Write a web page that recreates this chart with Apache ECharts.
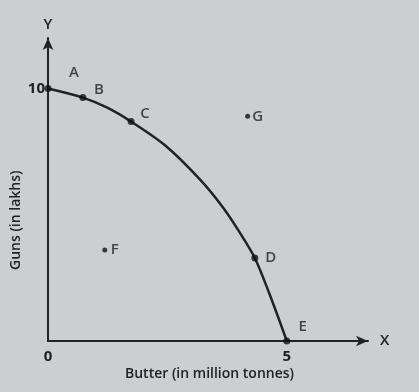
<!DOCTYPE html>
<html>
<head>
<meta charset="utf-8">
<script src="https://cdn.jsdelivr.net/npm/echarts@6/dist/echarts.min.js"></script>
<style>
  html, body { margin: 0; padding: 0; background: #cbcfd2; }
  #chart { width: 419px; height: 392px; }
</style>
</head>
<body>
<div id="chart"></div>
<script>
// PPF curve (butter, guns)
const curveX = [0, 0.73, 1.23, 1.74, 2.45, 3.18, 3.66, 3.98, 4.33, 4.64, 5];
const curveY = [10, 9.64, 9.25, 8.69, 7.75, 6.4, 5.3, 4.4, 3.29, 1.85, 0];

// labelled points
const pointNames = ['A', 'B', 'C', 'D', 'E', 'F', 'G'];
const pointX = [0, 0.73, 1.74, 4.33, 5, 1.19, 4.18];
const pointY = [10, 9.64, 8.69, 3.29, 0, 3.6, 8.9];

const xTicks = [0, 5];
const yTicks = [10];

const ink = '#222';
const font = '"Open Sans", "DejaVu Sans", sans-serif';

// 每个点的标签偏移
const labelOffset = {
  A: [26, -16], B: [16, -8], C: [14, -8], D: [16, 0],
  E: [16, -14], F: [10, 0], G: [10, 0]
};

let chart = echarts.init(document.getElementById('chart'));

let curveData = curveX.map((x, i) => [x, curveY[i]]);
let pointData = pointNames.map((n, i) => ({
  name: n,
  value: [pointX[i], pointY[i]],
  symbolSize: (n === 'F' || n === 'G') ? 5 : 7,
  label: {
    show: true,
    formatter: n,
    offset: labelOffset[n],
    position: 'inside'
  }
}));

chart.setOption({
  backgroundColor: '#cbcfd2',
  animation: false,
  grid: { left: 48, right: 51, top: 38, bottom: 51 },
  xAxis: {
    type: 'value',
    min: 0,
    max: 6.7,
    interval: 5,
    name: 'X',
    nameLocation: 'end',
    nameGap: 12,
    nameTextStyle: { color: ink, fontSize: 15, fontFamily: font, fontWeight: 600, verticalAlign: 'middle' },
    axisLine: { lineStyle: { color: ink, width: 2 }, symbol: ['none', 'arrow'], symbolSize: [8, 12] },
    axisTick: { show: false },
    splitLine: { show: false },
    axisLabel: {
      color: ink, fontSize: 15, fontFamily: font, fontWeight: 'bold', margin: 8,
      showMaxLabel: false,
      formatter: v => xTicks.indexOf(v) >= 0 ? String(v) : ''
    }
  },
  yAxis: {
    type: 'value',
    min: 0,
    max: 12,
    interval: 10,
    name: 'Y',
    nameLocation: 'end',
    nameGap: 6,
    nameTextStyle: { color: ink, fontSize: 15, fontFamily: font, fontWeight: 600 },
    axisLine: { lineStyle: { color: ink, width: 2 }, symbol: ['none', 'arrow'], symbolSize: [8, 12] },
    axisTick: { show: false },
    splitLine: { show: false },
    axisLabel: {
      color: ink, fontSize: 15, fontFamily: font, fontWeight: 'bold', margin: 3,
      showMaxLabel: false,
      formatter: v => yTicks.indexOf(v) >= 0 ? String(v) : ''
    }
  },
  graphic: [
    {
      type: 'text', left: 'center', top: 367,
      style: { text: 'Butter (in million tonnes)', fill: ink, font: '600 14px ' + font }
    },
    {
      type: 'text', x: 9, y: 270, rotation: Math.PI / 2,
      style: { text: 'Guns (in lakhs)', fill: ink, font: '600 14px ' + font }
    }
  ],
  series: [
    {
      type: 'line',
      data: curveData,
      smooth: 0.3,
      showSymbol: false,
      lineStyle: { color: ink, width: 2.5 }
    },
    {
      type: 'scatter',
      data: pointData,
      itemStyle: { color: '#111' },
      label: { color: ink, fontSize: 15, fontFamily: font, fontWeight: 600 },
      z: 5
    }
  ]
});
</script>
</body>
</html>
